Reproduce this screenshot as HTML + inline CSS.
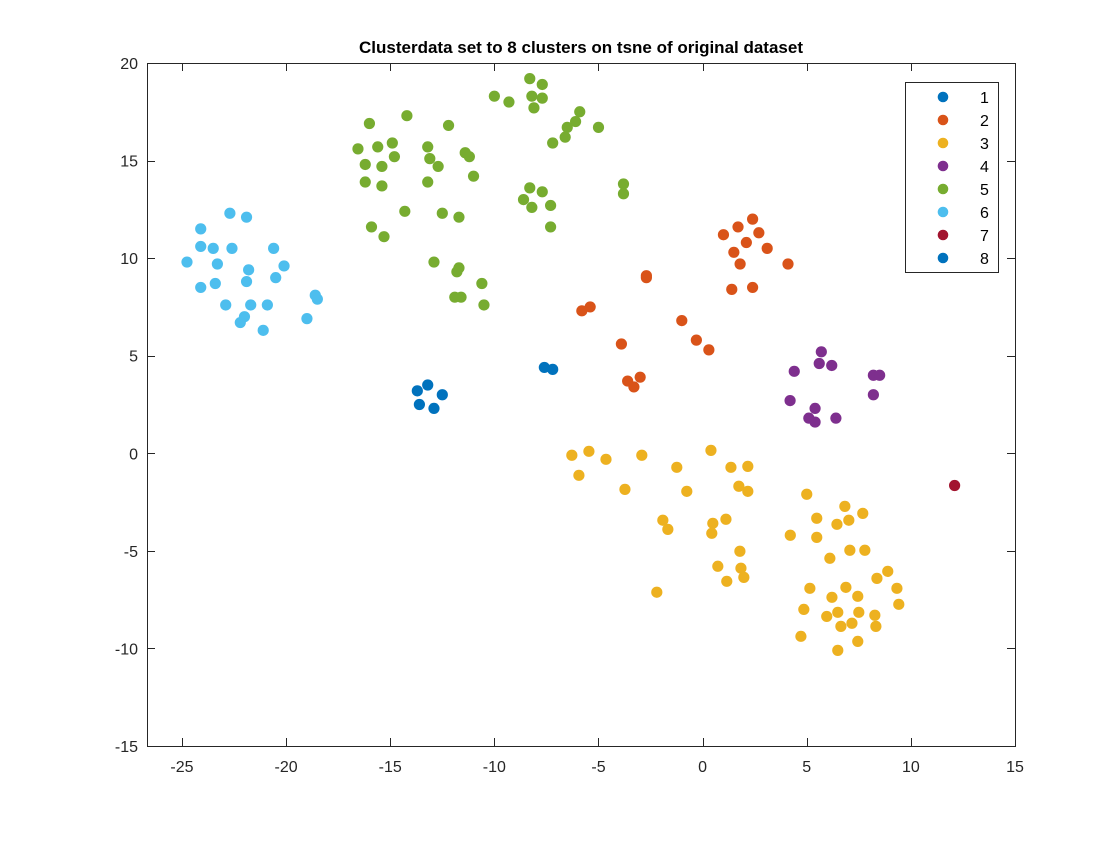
<!DOCTYPE html>
<html><head><meta charset="utf-8"><style>
html,body{margin:0;padding:0;background:#fff;}
svg text{font-family:"Liberation Sans",Arial,sans-serif;}
</style></head><body>
<svg id="chart" width="1120" height="840" xmlns="http://www.w3.org/2000/svg"></svg>
<script>
const clusterNames=["1","2","3","4","5","6","7","8"];
const clusterColors=["#0072BD","#D95319","#EDB120","#7E2F8E","#77AC30","#4DBEEE","#A2142F","#0072BD"];
const xTicks=[-25,-20,-15,-10,-5,0,5,10,15];
const yTicks=[-15,-10,-5,0,5,10,15,20];
const c1x=[-13.7,-13.2,-12.5,-13.6,-12.9];
const c1y=[3.2,3.5,3.0,2.5,2.3];
const c8x=[-7.6,-7.2];
const c8y=[4.4,4.3];
const c2x=[1.0,1.7,2.4,2.1,2.7,3.1,1.5,1.8,4.1,-2.7,-2.7,1.4,2.4,-5.4,-5.8,-1.0,-0.3,0.3,-3.9,-3.6,-3.0,-3.3];
const c2y=[11.2,11.6,12.0,10.8,11.3,10.5,10.3,9.7,9.7,9.0,9.1,8.4,8.5,7.5,7.3,6.8,5.8,5.3,5.6,3.7,3.9,3.4];
const c3x=[-6.28,-5.46,-4.64,-5.94,-2.92,-3.73,0.40,-1.24,1.36,2.17,-0.76,1.74,2.17,-1.91,-1.67,0.49,1.12,0.44,1.79,0.73,1.84,1.98,1.16,-2.20,5.00,6.83,7.69,5.48,6.45,7.02,4.21,5.48,7.07,7.79,6.11,8.89,8.37,9.33,9.42,5.15,6.88,7.45,6.21,4.86,6.49,7.50,8.27,5.96,7.17,6.64,8.32,4.72,7.45,6.49];
const c3y=[-0.10,0.10,-0.31,-1.13,-0.10,-1.85,0.15,-0.72,-0.72,-0.67,-1.95,-1.69,-1.95,-3.43,-3.90,-3.59,-3.38,-4.10,-5.02,-5.79,-5.89,-6.36,-6.56,-7.12,-2.10,-2.72,-3.08,-3.33,-3.64,-3.43,-4.20,-4.31,-4.97,-4.97,-5.38,-6.05,-6.41,-6.92,-7.74,-6.92,-6.87,-7.33,-7.38,-8.00,-8.15,-8.15,-8.30,-8.36,-8.71,-8.87,-8.87,-9.38,-9.64,-10.10];
const c4x=[4.4,5.7,5.6,6.2,8.2,8.5,8.2,4.2,5.1,5.4,5.4,6.4];
const c4y=[4.2,5.2,4.6,4.5,4.0,4.0,3.0,2.7,1.8,2.3,1.6,1.8];
const c5x=[-16.55,-16.2,-16.2,-15.9,-16.0,-15.6,-15.4,-15.4,-15.3,-14.9,-14.8,-14.3,-14.2,-13.2,-13.1,-13.2,-12.7,-12.5,-12.2,-11.7,-11.4,-11.2,-11.0,-12.9,-11.8,-11.7,-11.9,-11.6,-10.6,-10.5,-10.0,-9.3,-8.3,-7.7,-8.2,-8.1,-7.7,-5.9,-6.1,-6.5,-7.2,-6.6,-5.0,-8.6,-8.3,-8.2,-7.7,-7.3,-7.3,-3.8,-3.8];
const c5y=[15.6,14.8,13.9,11.6,16.9,15.7,14.7,13.7,11.1,15.9,15.2,12.4,17.3,15.7,15.1,13.9,14.7,12.3,16.8,12.1,15.4,15.2,14.2,9.8,9.3,9.5,8.0,8.0,8.7,7.6,18.3,18.0,19.2,18.9,18.3,17.7,18.2,17.5,17.0,16.7,15.9,16.2,16.7,13.0,13.6,12.6,13.4,12.7,11.6,13.8,13.3];
const c6x=[-24.76,-24.1,-24.1,-24.1,-23.5,-23.3,-23.4,-22.7,-22.6,-21.9,-21.8,-21.9,-22.9,-21.7,-22.0,-22.2,-21.1,-20.9,-20.5,-20.6,-20.1,-19.0,-18.6,-18.5];
const c6y=[9.8,8.5,11.5,10.6,10.5,9.7,8.7,12.3,10.5,12.1,9.4,8.8,7.6,7.6,7.0,6.7,6.3,7.6,9.0,10.5,9.6,6.9,8.1,7.9];
const c7x=[12.1];
const c7y=[-1.65];

const X0=147,X1=1015,Y0=63,Y1=746,XMIN=-26.68,XMAX=15,YMIN=-15,YMAX=20;
function sx(v){return X0+(v-XMIN)/(XMAX-XMIN)*(X1-X0);}
function sy(v){return Y1-(v-YMIN)/(YMAX-YMIN)*(Y1-Y0);}
const NS="http://www.w3.org/2000/svg";
const svg=document.getElementById('chart');
function mk(tag,attrs,parent){const e=document.createElementNS(NS,tag);for(const k in attrs)e.setAttribute(k,attrs[k]);(parent||svg).appendChild(e);return e;}

const axes=mk('rect',{x:X0,y:Y0,width:X1-X0,height:Y1-Y0,fill:'#fff',stroke:'none'});



const series=[[c1x,c1y],[c2x,c2y],[c3x,c3y],[c4x,c4y],[c5x,c5y],[c6x,c6y],[c7x,c7y],[c8x,c8y]];
series.forEach((s,i)=>{
  const g=mk('g',{fill:clusterColors[i]});
  
  
  for(let j=0;j<s[0].length;j++){
    const c=mk('circle',{cx:sx(s[0][j]),cy:sy(s[1][j]),r:5.6},g);
    
    
  }
});

const frame=mk('rect',{x:X0+0.5,y:Y0+0.5,width:X1-X0,height:Y1-Y0,fill:'none',stroke:'#262626','stroke-width':1});



xTicks.forEach(t=>{
  const x=Math.round(sx(t))+0.5;
  mk('line',{x1:x,x2:x,y1:Y1,y2:Y1-8,stroke:'#262626'});
  mk('line',{x1:x,x2:x,y1:Y0,y2:Y0+8,stroke:'#262626'});
  const tx=mk('text',{x:sx(t),y:Y1+26,'text-anchor':'middle','font-size':16,fill:'#262626'});
  tx.textContent=t;
  
  
});
yTicks.forEach(t=>{
  const y=Math.round(sy(t))+0.5;
  mk('line',{x1:X0,x2:X0+8,y1:y,y2:y,stroke:'#262626'});
  mk('line',{x1:X1,x2:X1-8,y1:y,y2:y,stroke:'#262626'});
  const tx=mk('text',{x:X0-9,y:sy(t)+6,'text-anchor':'end','font-size':16,fill:'#262626'});
  tx.textContent=t;
  
  
});

const title=mk('text',{x:(X0+X1)/2,y:53,'text-anchor':'middle','font-size':17,'font-weight':'bold',fill:'#000'});
title.textContent='Clusterdata set to 8 clusters on tsne of original dataset';



const lg=mk('g',{});


mk('rect',{x:905.5,y:82.5,width:93,height:190,fill:'#fff',stroke:'#262626'},lg);
clusterNames.forEach((n,i)=>{
  const y=97+i*23;
  const e=mk('g',{},lg);
  
  
  mk('circle',{cx:943,cy:y,r:5.3,fill:clusterColors[i]},e);
  const t=mk('text',{x:980,y:y+6,'font-size':16,fill:'#000'},e);
  t.textContent=n;
});
</script>
</body></html>
